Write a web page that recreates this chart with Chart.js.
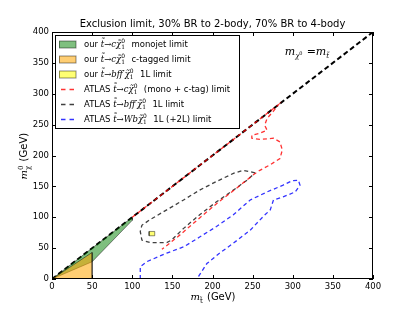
<!DOCTYPE html>
<html>
<head>
<meta charset="utf-8">
<script src="https://cdn.jsdelivr.net/npm/chart.js@4.4.1/dist/chart.umd.min.js"></script>
<style>
  html, body { margin: 0; padding: 0; background: #fff; }
  #wrap { width: 415px; height: 312px; }
</style>
</head>
<body>
<div id="wrap"><canvas id="chart" width="415" height="312"></canvas></div>
<script>
// axis ticks
const tickValues = [0, 50, 100, 150, 200, 250, 300, 350, 400];

// m_chi = m_stop line
const diagX = [0, 400];
const diagY = [0, 400];

// our limits (filled regions)
const monojetX = [0, 100, 100, 50, 0];
const monojetY = [0, 100, 95, 28, 0];
const ctagX = [0, 50, 50, 0];
const ctagY = [0, 43, 0, 0];
const bffOursX = [121, 128, 128, 121, 121];
const bffOursY = [70, 70, 77, 77, 70];

// ATLAS contours
const atlasCX = [100, 282, 276, 268, 265, 268, 259, 249, 249, 259, 276, 284, 287, 284, 272, 259, 250, 228, 205, 185, 160, 137];
const atlasCY = [100, 282, 272, 260, 249, 241, 236, 233, 228, 226, 228, 222, 209, 195, 185, 176, 168, 145, 122, 100, 72, 48];
const atlasBffX = [253, 238, 226, 205, 184, 164, 143, 122, 112, 110, 112, 122, 143, 149, 164, 184, 205, 226, 243, 253];
const atlasBffY = [172, 176, 171, 158, 144, 128, 112, 96, 87, 77, 63, 59, 59, 63, 82, 104, 125, 144, 160, 172];
const atlasWbX = [110, 110, 118, 143, 164, 184, 205, 226, 247, 268, 288, 299, 307, 309, 303, 288, 276, 272, 263, 247, 226, 209, 193, 183, 181];
const atlasWbY = [0, 20, 28, 42, 52, 68, 85, 104, 128, 141, 152, 159, 160, 152, 141, 133, 128, 112, 101, 79, 58, 42, 25, 5, 0];

const pts = (xs, ys) => xs.map((v, i) => ({ x: v, y: ys[i] }));

const SANS = '"DejaVu Sans"';
const SERIF = '"DejaVu Serif"';

// draws text made of plain runs, math runs and stacked sup/sub scripts
function drawRuns(ctx, runs, x, y, size) {
  for (const r of runs) {
    if (typeof r === 'string') {
      ctx.font = size + 'px ' + SANS;
      ctx.fillText(r, x, y);
      x += ctx.measureText(r).width;
    } else if (r.m !== undefined) {
      ctx.font = 'italic ' + size + 'px ' + SERIF;
      ctx.fillText(r.m, x, y);
      x += ctx.measureText(r.m).width;
    } else {
      ctx.font = (size * 0.7) + 'px ' + SERIF;
      let w = 0;
      if (r.sup) { ctx.fillText(r.sup, x, y - size * 0.38); w = Math.max(w, ctx.measureText(r.sup).width); }
      if (r.sub) { ctx.fillText(r.sub, x, y + size * 0.32); w = Math.max(w, ctx.measureText(r.sub).width); }
      x += w + 1;
    }
  }
  return x;
}

const decor = {
  id: 'decor',
  afterDraw(chart) {
    const { ctx, chartArea: a, scales: { x, y } } = chart;
    ctx.save();

    // frame + inward ticks
    ctx.strokeStyle = '#000';
    ctx.lineWidth = 1;
    ctx.strokeRect(Math.round(a.left) + 0.5, Math.round(a.top) + 0.5, Math.round(a.width) - 1, Math.round(a.height) - 1);
    ctx.beginPath();
    tickValues.forEach(v => {
      const px = Math.round(x.getPixelForValue(v)) + 0.5;
      ctx.moveTo(px, a.bottom); ctx.lineTo(px, a.bottom - 4);
      ctx.moveTo(px, a.top); ctx.lineTo(px, a.top + 4);
      const py = Math.round(y.getPixelForValue(v)) + 0.5;
      ctx.moveTo(a.left, py); ctx.lineTo(a.left + 4, py);
      ctx.moveTo(a.right, py); ctx.lineTo(a.right - 4, py);
    });
    ctx.stroke();

    ctx.fillStyle = '#000';
    ctx.textBaseline = 'alphabetic';

    // title
    ctx.font = '10px ' + SANS;
    ctx.textAlign = 'center';
    ctx.fillText('Exclusion limit, 30% BR to 2-body, 70% BR to 4-body', (a.left + a.right) / 2, 27);
    ctx.textAlign = 'left';

    // x axis title
    drawRuns(ctx, [{ m: 'm' }, { sub: 't̃' }, ' (GeV)'], (a.left + a.right) / 2 - 22, 300, 10);

    // y axis title (rotated)
    ctx.save();
    ctx.translate(27, (a.top + a.bottom) / 2 + 24);
    ctx.rotate(-Math.PI / 2);
    drawRuns(ctx, [{ m: 'm' }, { sub: 'χ', sup: '0' }, ' (GeV)'], 0, 0, 10);
    ctx.restore();

    // diagonal annotation
    const ax = x.getPixelForValue(290), ay = y.getPixelForValue(362);
    let cx = drawRuns(ctx, [{ m: 'm' }], ax, ay, 11);
    ctx.font = 'italic 7px ' + SERIF;
    ctx.fillText('χ', cx, ay + 3);
    ctx.font = '5px ' + SERIF;
    ctx.fillText('0', cx + 4, ay);
    cx += 8;
    cx = drawRuns(ctx, [{ m: ' =' }, { m: 'm' }], cx, ay, 11);
    ctx.font = 'italic 7px ' + SERIF;
    ctx.fillText('t̃', cx, ay + 3);

    // legend
    const lx = 55.5, ly = 35.5, lw = 184, lh = 93;
    ctx.fillStyle = '#fff';
    ctx.fillRect(lx, ly, lw, lh);
    ctx.strokeStyle = '#000';
    ctx.lineWidth = 1;
    ctx.strokeRect(lx, ly, lw, lh);
    ctx.textBaseline = 'middle';
    chart.data.datasets.filter(d => d.rich).forEach((d, i) => {
      const rowY = 44.5 + i * 15;
      if (d.fill) {
        ctx.fillStyle = d.backgroundColor;
        ctx.fillRect(59, rowY - 3.5, 17, 7);
        ctx.strokeStyle = d.borderColor;
        ctx.strokeRect(59.5, rowY - 3.5, 16.5, 7);
      } else {
        ctx.strokeStyle = d.borderColor;
        ctx.lineWidth = d.borderWidth;
        ctx.setLineDash([4.5, 4]);
        ctx.beginPath();
        ctx.moveTo(61, rowY); ctx.lineTo(74.5, rowY);
        ctx.stroke();
        ctx.setLineDash([]);
        ctx.lineWidth = 1;
      }
      ctx.fillStyle = '#000';
      drawRuns(ctx, d.rich, 84, rowY, 8.5);
    });
    ctx.restore();
  }
};

const arrowC = [{ m: 't̃→cχ̃' }, { sup: '0', sub: '1' }];
const arrowBff = [{ m: 't̃→bff′χ̃' }, { sup: '0', sub: '1' }];
const arrowWb = [{ m: 't̃→Wbχ̃' }, { sup: '0', sub: '1' }];

const areaStyle = (bg) => ({
  backgroundColor: bg, borderColor: 'rgba(0,0,0,0.45)', borderWidth: 1,
  fill: 'shape', pointRadius: 0, tension: 0
});
const lineStyle = (c) => ({
  borderColor: c, borderWidth: 1.3, borderDash: [4, 3],
  fill: false, pointRadius: 0, tension: 0
});

new Chart(document.getElementById('chart').getContext('2d'), {
  type: 'line',
  data: {
    datasets: [
      Object.assign({ label: 'our t̃→cχ̃ monojet limit', rich: ['our ', ...arrowC, '  monojet limit'],
        data: pts(monojetX, monojetY), order: 5 }, areaStyle('rgba(0,128,0,0.5)')),
      Object.assign({ label: 'our t̃→cχ̃ c-tagged limit', rich: ['our ', ...arrowC, '  c-tagged limit'],
        data: pts(ctagX, ctagY), order: 4 }, areaStyle('rgba(255,165,0,0.55)')),
      Object.assign({ label: 'our t̃→bff′χ̃ 1L limit', rich: ['our ', ...arrowBff, '  1L limit'],
        data: pts(bffOursX, bffOursY), order: 3 }, areaStyle('rgba(255,255,0,0.55)')),
      Object.assign({ label: 'ATLAS t̃→cχ̃ (mono + c-tag) limit', rich: ['ATLAS ', ...arrowC, '  (mono + c-tag) limit'],
        data: pts(atlasCX, atlasCY), order: 0 }, lineStyle('rgba(255,0,0,0.8)')),
      Object.assign({ label: 'ATLAS t̃→bff′χ̃ 1L limit', rich: ['ATLAS ', ...arrowBff, '  1L limit'],
        data: pts(atlasBffX, atlasBffY), order: 1 }, lineStyle('rgba(0,0,0,0.75)')),
      Object.assign({ label: 'ATLAS t̃→Wbχ̃ 1L (+2L) limit', rich: ['ATLAS ', ...arrowWb, '  1L (+2L) limit'],
        data: pts(atlasWbX, atlasWbY), order: 2 }, lineStyle('rgba(0,0,255,0.8)')),
      { label: 'm_chi = m_stop', data: pts(diagX, diagY), borderColor: '#000', borderWidth: 2,
        borderDash: [5, 3], pointRadius: 0, fill: false, order: 6 }
    ]
  },
  options: {
    responsive: false,
    animation: false,
    devicePixelRatio: 1,
    layout: { padding: { top: 32, right: 42, left: 0, bottom: 0 } },
    plugins: { legend: { display: false }, tooltip: { enabled: false } },
    scales: {
      x: {
        type: 'linear', min: 0, max: 400,
        grid: { display: false, drawTicks: false },
        border: { display: false },
        ticks: { stepSize: 50, padding: 3, maxRotation: 0, color: '#000', font: { family: 'DejaVu Sans', size: 8.5 } },
        afterFit: (s) => { s.height = 33; }
      },
      y: {
        type: 'linear', min: 0, max: 400,
        grid: { display: false, drawTicks: false },
        border: { display: false },
        ticks: { stepSize: 50, padding: 3, color: '#000', font: { family: 'DejaVu Sans', size: 8.5 } },
        afterFit: (s) => { s.width = 52; }
      }
    }
  },
  plugins: [decor]
});
</script>
</body>
</html>
